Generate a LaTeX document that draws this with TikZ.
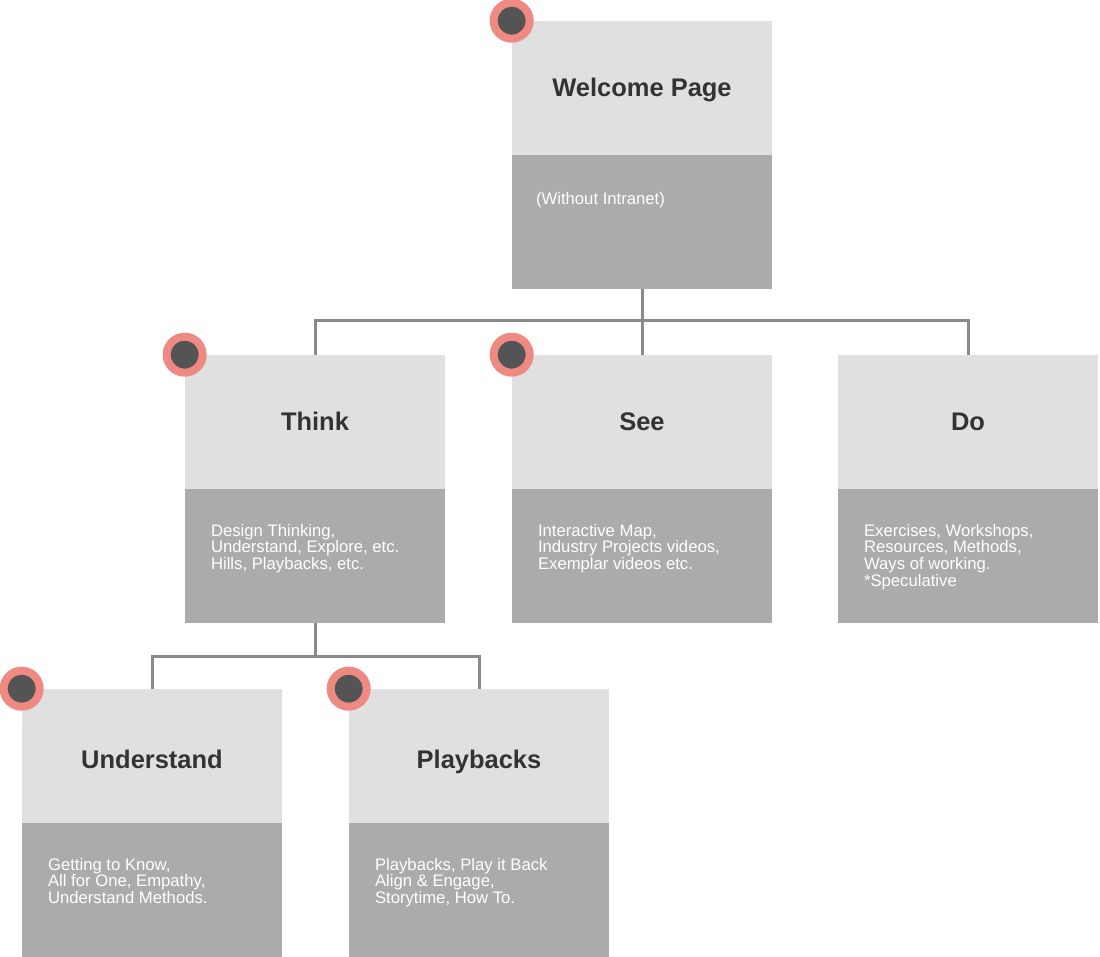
\documentclass[tikz,border=0pt]{standalone}
\usepackage{fontspec}
\setmainfont{Liberation Sans}
\definecolor{headfill}{HTML}{E0E0E0}
\definecolor{bodyfill}{HTML}{ABABAB}
\definecolor{ring}{HTML}{EE8A82}
\definecolor{dotcore}{HTML}{545454}
\definecolor{wire}{HTML}{8A8A8A}
\definecolor{headtext}{HTML}{333333}
\tikzstyle{head}=[rectangle, fill=headfill, minimum width=52mm, minimum height=26.8mm, inner sep=0, text height=0.96em, text depth=0pt, font=\fontsize{14.5pt}{16pt}\selectfont\bfseries, text=headtext]
\tikzstyle{body}=[rectangle, fill=bodyfill, minimum width=52mm, minimum height=26.8mm, inner sep=0]
\tikzstyle{desc}=[anchor=north west, inner sep=0, align=left, text=white, font=\fontsize{9.5pt}{9.5pt}\selectfont]
\tikzstyle{dot}=[circle, fill=dotcore, draw=ring, line width=1.6mm, minimum size=7.2mm, inner sep=0]
\tikzstyle{link}=[draw=wire, line width=0.6mm]

\begin{document}
\begin{tikzpicture}[x=0.02cm,y=-0.02cm]
  \useasboundingbox (0,0) rectangle (1100,957);

  %% Top level
  \draw (642,88) node[head] (welcome) {Welcome Page};
  \draw (642,222) node[body] (welcomeB) {};

  %% Second row
  \draw (315,422) node[head] (think) {Think};
  \draw (315,556) node[body] (thinkB) {};
  \draw (642,422) node[head] (see) {See};
  \draw (642,556) node[body] (seeB) {};
  \draw (968,422) node[head] (do) {Do};
  \draw (968,556) node[body] (doB) {};

  %% Third row
  \draw (152,756) node[head] (understand) {\raisebox{-0.9mm}{Understand}};
  \draw (152,890) node[body] (understandB) {};
  \draw (479,756) node[head] (playbacks) {\raisebox{-0.9mm}{Playbacks}};
  \draw (479,890) node[body] (playbacksB) {};

  %% Descriptions
  \node[desc] (welcomeT) at ([xshift=4.8mm, yshift=-7.4mm]welcomeB.north west) {(Without Intranet)};
  \node[desc] (thinkT) at ([xshift=5.2mm, yshift=-7mm]thinkB.north west) {Design Thinking,\\Understand, Explore, etc.\\Hills, Playbacks, etc.};
  \node[desc] (seeT) at ([xshift=5.2mm, yshift=-7mm]seeB.north west) {Interactive Map,\\Industry Projects videos,\\Exemplar videos etc.};
  \node[desc] (doT) at ([xshift=5.2mm, yshift=-7mm]doB.north west) {Exercises, Workshops,\\Resources, Methods,\\Ways of working.\\*Speculative};
  \node[desc] (understandT) at ([xshift=5.2mm, yshift=-7mm]understandB.north west) {Getting to Know,\\All for One, Empathy,\\Understand Methods.};
  \node[desc] (playbacksT) at ([xshift=5.2mm, yshift=-7mm]playbacksB.north west) {Playbacks, Play it Back\\Align \& Engage,\\Storytime, How To.};

  %% Connectors
  \draw[link] (welcomeB.south) -- ++(0,31) -| (think.north);
  \draw[link] (welcomeB.south) -- ++(0,31) -| (do.north);
  \draw[link] (welcomeB.south) -- (see.north);
  \draw[link] (thinkB.south) -- ++(0,33) -| (understand.north);
  \draw[link] (thinkB.south) -- ++(0,33) -| (playbacks.north);

  %% Markers
  \node[dot] (welcomeD) at (welcome.north west) {};
  \node[dot] (thinkD) at (think.north west) {};
  \node[dot] (seeD) at (see.north west) {};
  \node[dot] (understandD) at (understand.north west) {};
  \node[dot] (playbacksD) at (playbacks.north west) {};
\end{tikzpicture}
\end{document}
